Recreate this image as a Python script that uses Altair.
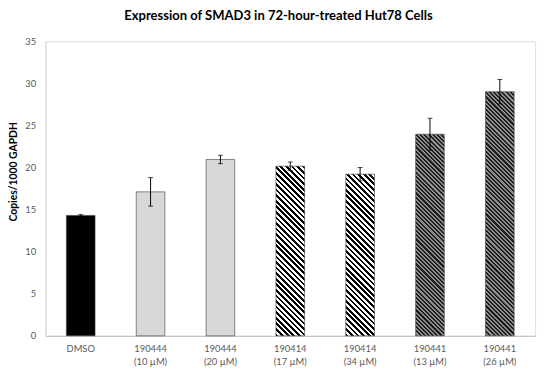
import math
import altair as alt
import pandas as pd

compounds = ["DMSO", "190444", "190444", "190414", "190414", "190441", "190441"]
doses = ["", "(10 µM)", "(20 µM)", "(17 µM)", "(34 µM)", "(13 µM)", "(26 µM)"]
values = [14.3, 17.1, 20.95, 20.15, 19.2, 23.95, 29.0]
errors = [0.1, 1.7, 0.5, 0.5, 0.8, 1.9, 1.45]

keys = [c + "|" + d for c, d in zip(compounds, doses)]
df = pd.DataFrame({
    "key": keys,
    "compound": compounds,
    "value": values,
    "lo": [v - e for v, e in zip(values, errors)],
    "hi": [v + e for v, e in zip(values, errors)],
})

W, H = 497, 299
YMAX = 35
PAD_IN, PAD_OUT = 0.59, 0.3
step = W / (len(keys) - PAD_IN + 2 * PAD_OUT)
bar_w = step * (1 - PAD_IN)


def stripes(value, c1="#000000", c2="#ffffff", period=4.0):
    h = value * H / YMAX
    r = h / bar_w
    tmax = (1 + r) / (1 + r * r)
    lperp = (bar_w + h) / math.sqrt(2)
    dt = period * tmax / lperp
    n = int(tmax / dt) + 2
    stops = []
    for k in range(n):
        a = k * dt
        b = a + dt / 2
        c = a + dt
        if a > 1:
            break
        stops += [
            {"color": c1, "offset": min(a, 1)},
            {"color": c1, "offset": min(b, 1)},
            {"color": c2, "offset": min(b, 1)},
            {"color": c2, "offset": min(c, 1)},
        ]
    return {"gradient": "linear", "x1": 0, "y1": 1, "x2": 1, "y2": 1 - r, "stops": stops}


def fill_for(i):
    comp = compounds[i]
    if comp == "DMSO":
        return "#000000"
    if comp == "190444":
        return "#d8d8d8"
    if comp == "190414":
        return stripes(values[i])
    return stripes(values[i], c1="#1e1e1e", c2="#8e8e8e", period=3.0)


xenc = alt.X(
    "key:N",
    sort=keys,
    title=None,
    scale=alt.Scale(domain=keys, paddingInner=PAD_IN, paddingOuter=PAD_OUT),
    axis=alt.Axis(
        labelExpr="split(datum.label, '|')",
        labelAngle=0,
        labelFont="Lato",
        labelFontSize=9.5,
        labelColor="#595959",
        labelLineHeight=13,
        labelPadding=8,
        ticks=False,
        domainColor="#bfbfbf",
    ),
)
yscale = alt.Scale(domain=[0, YMAX], nice=False)
yenc = alt.Y(
    "value:Q",
    scale=yscale,
    axis=alt.Axis(
        values=list(range(0, 36, 5)),
        grid=False,
        ticks=False,
        domainColor="#d9d9d9",
        labelFont="Lato",
        labelFontSize=9.5,
        labelColor="#595959",
        labelPadding=10,
        title="Copies/1000 GAPDH",
        titleFont="Lato",
        titleFontSize=10.5,
        titleFontWeight="bold",
        titleColor="#000000",
        titleX=-32,
        titleY=132,
        titleAngle=-90,
        titleAlign="center",
        titleBaseline="middle",
    ),
)

base = alt.Chart(df)
layers = []
for i, k in enumerate(keys):
    layers.append(
        base.transform_filter(alt.datum.key == k)
        .mark_bar(fill=fill_for(i), stroke="#3a3a3a", strokeWidth=0.6)
        .encode(x=xenc, y=yenc)
    )

rules = base.mark_rule(color="#000000", strokeWidth=1).encode(
    x=xenc, y=alt.Y("lo:Q", scale=yscale), y2="hi:Q"
)
cap_lo = base.mark_tick(color="#000000", size=5, thickness=1).encode(
    x=xenc, y=alt.Y("lo:Q", scale=yscale)
)
cap_hi = base.mark_tick(color="#000000", size=5, thickness=1).encode(
    x=xenc, y=alt.Y("hi:Q", scale=yscale)
)

chart = alt.layer(*layers, rules, cap_lo, cap_hi).properties(
    width=W,
    height=H,
    autosize=alt.AutoSizeParams(type="none"),
    padding={"left": 38, "top": 31, "right": 7, "bottom": 32},
    title=alt.Title(
        "Expression of SMAD3 in 72-hour-treated Hut78 Cells",
        font="Lato",
        fontSize=13.2,
        fontWeight="bold",
        color="#000000",
        anchor="middle",
        dx=-12,
        offset=13,
    ),
).configure_view(stroke=None).configure(background="white")

chart.save("out.html", embed_options={"renderer": "svg", "actions": False})
